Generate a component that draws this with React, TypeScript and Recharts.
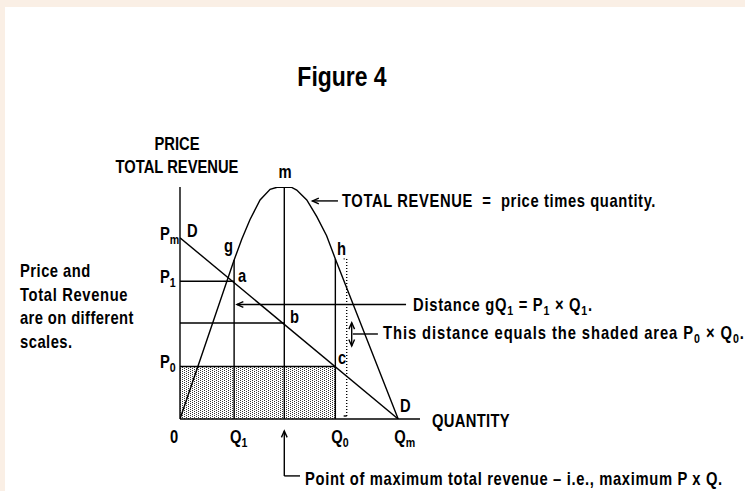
import React from 'react';
import {
  ComposedChart, Line, XAxis, YAxis, ReferenceLine, ReferenceArea, Customized,
} from 'recharts';

// quantities on the horizontal axis
const Q1 = 2.48;
const Q_TOP = 4.78;
const Q0 = 7.12;
const QM = 10;

// prices on the left scale
const PM = 10;
const P1 = 7.6;
const P_B = 5.3;
const P0 = 2.9;

// straight-line demand curve D
const demandQ = [0, QM];
const demandP = [PM, 0];

// total revenue curve (own scale, peak = 100)
const revenueQ = [0, 2.48, 2.83, 3.21, 3.67, 4.13, 4.45, 4.78, 5.1, 5.35, 5.81, 6.27, 6.72, 7.12, 10];
const revenueV = [0, 68.5, 77.5, 86, 94.4, 99, 99.9, 100, 99.9, 98.7, 94.4, 87.2, 79, 69, 0];
const TR_G = 68.5;
const TR_H = 69;
const TR_MAX = 100;

const qTicks = [0, Q1, Q0, QM];
const qTickLabels = ['0', 'Q_1', 'Q_0', 'Q_m'];
const pTicks = [P0, P1, PM];
const pTickLabels = ['P_0', 'P_1', 'P_m'];

const demand = demandQ.map((q, i) => ({ q, p: demandP[i] }));
const revenue = revenueQ.map((q, i) => ({ q, tr: revenueV[i] }));

const FONT = "'Liberation Sans', Arial, sans-serif";
const NARROW = 0.82;
const INK = '#000';
const LW = 1.4;
const SP = '\u00a0';

// "Q_1" -> Q with a lowered, smaller 1
const rich = (s: string) =>
  s.split(/_(\w)/).map((part, i) => {
    if (!part) return null;
    if (i % 2) return <tspan key={i} dy={4} fontSize={13}>{part}</tspan>;
    return i === 0 ? part : <tspan key={i} dy={-4}>{part}</tspan>;
  });

type TProps = { x: number; y: number; s: string; size?: number; anchor?: string; ls?: number };

// condensed bold text, like a narrow sans
const T = ({ x, y, s, size = 18, anchor = 'start', ls = 0 }: TProps) => (
  <text
    transform={`translate(${x},${y}) scale(${NARROW},1)`}
    fontFamily={FONT}
    fontWeight="bold"
    fontSize={size}
    letterSpacing={ls}
    fill={INK}
    textAnchor={anchor}
  >
    {rich(s)}
  </text>
);

// line with an open chevron head at the end (and optionally the start)
const arrow = (both = false) => (props: any) => {
  const { x1, y1, x2, y2 } = props;
  const head = (tx: number, ty: number, fx: number, fy: number) => {
    const a = Math.atan2(ty - fy, tx - fx);
    const l = 7;
    const s = 0.42;
    return `M${tx - l * Math.cos(a - s)},${ty - l * Math.sin(a - s)} L${tx},${ty} L${tx - l * Math.cos(a + s)},${ty - l * Math.sin(a + s)}`;
  };
  return (
    <g>
      <line x1={x1} y1={y1} x2={x2} y2={y2} stroke={INK} strokeWidth={LW} />
      <path d={head(x2, y2, x1, y1)} fill="none" stroke={INK} strokeWidth={LW} />
      {both && <path d={head(x1, y1, x2, y2)} fill="none" stroke={INK} strokeWidth={LW} />}
    </g>
  );
};

const QTick = (props: any) => {
  const { x, y, payload } = props;
  const i = qTicks.indexOf(payload.value);
  return <T x={i === 0 ? x - 10 : x - 4} y={y + 16} s={qTickLabels[i]} />;
};

const PTick = (props: any) => {
  const { x, y, payload } = props;
  const i = pTicks.indexOf(payload.value);
  return <T x={x - 12} y={y + 2} s={pTickLabels[i]} />;
};

const Notes = () => (
  <g>
    <T x={342} y={86} size={28} anchor="middle" s="Figure 4" />
    <T x={177} y={150} anchor="middle" s="PRICE" />
    <T x={177} y={173} anchor="middle" s="TOTAL REVENUE" />
    <T x={20} y={277} s="Price and" ls={0.6} />
    <T x={20} y={301} s="Total Revenue" ls={0.8} />
    <T x={20} y={324} s="are on different" ls={0.5} />
    <T x={20} y={348} s="scales." ls={0.6} />

    <T x={285} y={178} anchor="middle" s="m" />
    <T x={187} y={237} s="D" />
    <T x={224} y={252} s="g" />
    <T x={238} y={282} s="a" />
    <T x={337} y={255} s="h" />
    <T x={290} y={323} s="b" />
    <T x={338} y={364} s="c" />
    <T x={400} y={412} s="D" />

    <T x={342} y={207} s={`TOTAL REVENUE${SP}${SP}=${SP}${SP}price times quantity.`} ls={0.75} />
    <T x={413} y={311} s="Distance gQ_1 = P_1 × Q_1." ls={0.9} />
    <T x={383} y={339} s="This distance equals the shaded area P_0 × Q_0." ls={1.15} />
    <T x={432} y={427} s="QUANTITY" ls={0.4} />
    <T x={305} y={485} s="Point of maximum total revenue – i.e., maximum P x Q." ls={0.8} />
  </g>
);

export default function App() {
  return (
    <div style={{ position: 'absolute', left: 0, top: 0, width: 745, height: 491, background: '#FAEFE5' }}>
      <div style={{ position: 'absolute', left: 5, top: 7, width: 740, height: 484, background: '#fff' }} />
      <svg width={0} height={0} style={{ position: 'absolute' }}>
        <defs>
          <pattern id="dots" width={4} height={2} patternUnits="userSpaceOnUse">
            <rect x={0} y={0} width={1} height={1} fill="#333" />
            <rect x={2} y={1} width={1} height={1} fill="#333" />
          </pattern>
        </defs>
      </svg>
      <div style={{ position: 'absolute', left: 0, top: 0 }}>
        <ComposedChart width={745} height={491} margin={{ top: 187, right: 325, bottom: 42, left: 140 }}>
          <XAxis
            type="number"
            dataKey="q"
            domain={[0, 11]}
            ticks={qTicks}
            interval={0}
            tickLine={false}
            axisLine={{ stroke: INK, strokeWidth: LW }}
            tick={<QTick />}
            height={30}
            allowDataOverflow
          />
          <YAxis
            yAxisId="p"
            type="number"
            domain={[0, 12.8]}
            ticks={pTicks}
            interval={0}
            tickLine={false}
            axisLine={{ stroke: INK, strokeWidth: LW }}
            tick={<PTick />}
            width={40}
            allowDataOverflow
          />
          <YAxis yAxisId="tr" type="number" domain={[0, TR_MAX]} hide allowDataOverflow />

          <ReferenceArea yAxisId="p" x1={0} x2={Q0} y1={0} y2={P0} fill="url(#dots)" fillOpacity={1} stroke="none" />

          {/* price guide lines */}
          <ReferenceLine yAxisId="p" segment={[{ x: 0, y: P1 }, { x: Q1, y: P1 }]} stroke={INK} strokeWidth={LW} />
          <ReferenceLine yAxisId="p" segment={[{ x: 0, y: P_B }, { x: Q_TOP, y: P_B }]} stroke={INK} strokeWidth={LW} />
          <ReferenceLine yAxisId="p" segment={[{ x: 0, y: P0 }, { x: Q0, y: P0 }]} stroke={INK} strokeWidth={LW} />

          {/* quantity guide lines up to the revenue curve */}
          <ReferenceLine yAxisId="tr" segment={[{ x: Q1, y: 0 }, { x: Q1, y: TR_G }]} stroke={INK} strokeWidth={LW} />
          <ReferenceLine yAxisId="tr" segment={[{ x: Q_TOP, y: 0 }, { x: Q_TOP, y: TR_MAX }]} stroke={INK} strokeWidth={LW} />
          <ReferenceLine yAxisId="tr" segment={[{ x: Q0, y: 0 }, { x: Q0, y: TR_H }]} stroke={INK} strokeWidth={LW} />

          {/* dotted bracket showing revenue at Q0 */}
          <ReferenceLine yAxisId="tr" segment={[{ x: 7.64, y: 1.3 }, { x: 7.64, y: TR_H }]} stroke={INK} strokeWidth={LW} strokeDasharray="1 2" />
          <ReferenceLine yAxisId="tr" segment={[{ x: 7.5, y: TR_H }, { x: 7.64, y: TR_H }]} stroke={INK} strokeWidth={LW} strokeDasharray="1 2" />
          <ReferenceLine yAxisId="tr" segment={[{ x: 7.5, y: 1.3 }, { x: 7.64, y: 1.3 }]} stroke={INK} strokeWidth={LW} />

          {/* callout arrows */}
          <ReferenceLine yAxisId="tr" segment={[{ x: 7.24, y: 94 }, { x: 6.07, y: 94 }]} shape={arrow()} />
          <ReferenceLine yAxisId="p" segment={[{ x: 10.36, y: 6.32 }, { x: 2.61, y: 6.32 }]} shape={arrow()} />
          <ReferenceLine yAxisId="p" segment={[{ x: 7.87, y: 4.03 }, { x: 7.87, y: 5.31 }]} shape={arrow(true)} />
          <ReferenceLine yAxisId="p" segment={[{ x: 7.92, y: 4.69 }, { x: 9.07, y: 4.69 }]} stroke={INK} strokeWidth={LW} />
          <ReferenceLine yAxisId="p" ifOverflow="visible" segment={[{ x: Q_TOP, y: -3.14 }, { x: Q_TOP, y: -0.66 }]} shape={arrow()} />
          <ReferenceLine yAxisId="p" ifOverflow="visible" segment={[{ x: Q_TOP, y: -3.14 }, { x: 5.5, y: -3.14 }]} stroke={INK} strokeWidth={LW} />

          <Line data={revenue} yAxisId="tr" dataKey="tr" type="linear" stroke={INK} strokeWidth={LW} dot={false} activeDot={false} isAnimationActive={false} />
          <Line data={demand} yAxisId="p" dataKey="p" type="linear" stroke={INK} strokeWidth={LW} dot={false} activeDot={false} isAnimationActive={false} />

          <Customized component={Notes} />
        </ComposedChart>
      </div>
    </div>
  );
}
